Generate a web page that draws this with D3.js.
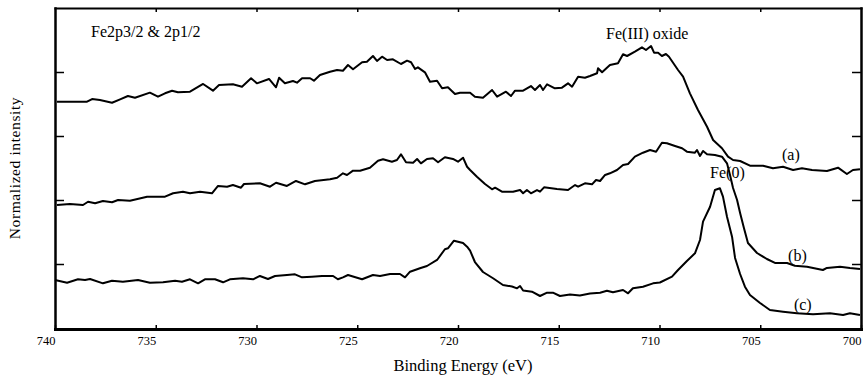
<!DOCTYPE html>
<html>
<head>
<meta charset="utf-8">
<script src="https://cdn.jsdelivr.net/npm/d3@7"></script>
<style>
    body { margin: 0; background: #fff; }
</style>
</head>
<body>
<div id="chart"></div>
<script>

// --- DONNEES ---

const xTickValues = [740, 735, 730, 725, 720, 715, 710, 705, 700];
const yTickValues = [1, 2, 3, 4];

// [binding energy (eV), normalized intensity]
const spectrumA = [
    [739.90, 3.536], [738.41, 3.536], [738.16, 3.578], [737.77, 3.563], [737.17, 3.520],
    [736.77, 3.573], [736.38, 3.625], [736.03, 3.598], [735.29, 3.677], [734.89, 3.614],
    [734.54, 3.667], [734.19, 3.708], [733.90, 3.683], [733.30, 3.692], [732.65, 3.813],
    [732.16, 3.708], [731.86, 3.797], [731.17, 3.808], [730.72, 3.770], [730.27, 3.902],
    [729.98, 3.823], [729.38, 3.891], [729.03, 3.761], [728.88, 3.911], [728.59, 3.823],
    [728.19, 3.859], [727.99, 3.833], [727.74, 3.902], [727.34, 3.902], [727.15, 3.864],
    [726.85, 3.953], [726.35, 4.005], [726.00, 4.031], [725.71, 4.020], [725.46, 4.109],
    [725.21, 4.042], [724.76, 4.152], [724.52, 4.161], [724.22, 4.250], [724.02, 4.172],
    [723.77, 4.239], [723.52, 4.188], [723.23, 4.198], [722.83, 4.125], [722.53, 4.177],
    [722.33, 4.152], [722.13, 4.047], [721.99, 4.073], [721.64, 3.995], [721.39, 3.848],
    [721.04, 3.864], [720.79, 3.745], [720.50, 3.761], [720.15, 3.656], [719.90, 3.677],
    [719.40, 3.677], [719.16, 3.614], [718.76, 3.598], [718.31, 3.719], [718.06, 3.614],
    [717.62, 3.692], [717.37, 3.625], [717.17, 3.708], [716.77, 3.708], [716.38, 3.781],
    [716.18, 3.719], [715.93, 3.797], [715.78, 3.719], [715.58, 3.808], [715.19, 3.745],
    [714.84, 3.755], [714.54, 3.823], [714.34, 3.770], [714.04, 3.927], [713.70, 3.911],
    [713.45, 3.938], [713.10, 3.980], [713.05, 4.058], [712.85, 3.995], [712.46, 4.109],
    [712.06, 4.136], [711.81, 4.277], [711.61, 4.250], [711.22, 4.317], [710.87, 4.386],
    [710.67, 4.344], [710.42, 4.406], [710.27, 4.302], [710.07, 4.302], [709.88, 4.250],
    [709.68, 4.281], [709.53, 4.239], [709.08, 4.031], [708.83, 3.927], [708.49, 3.667],
    [708.09, 3.406], [707.64, 3.145], [707.34, 2.938], [706.90, 2.808], [706.60, 2.677],
    [706.35, 2.625], [706.00, 2.609], [705.51, 2.536], [704.86, 2.536], [704.37, 2.495],
    [703.87, 2.520], [703.37, 2.469], [702.93, 2.495], [702.43, 2.469], [701.69, 2.453],
    [701.14, 2.505], [700.70, 2.406], [700.40, 2.469], [700.05, 2.480]
];

const spectrumB = [
    [739.90, 1.922], [739.26, 1.938], [738.61, 1.922], [738.36, 1.973], [738.01, 1.948],
    [737.62, 1.984], [737.17, 1.964], [736.87, 2.000], [736.28, 1.989], [735.43, 2.052],
    [734.54, 2.052], [734.14, 2.105], [733.65, 2.130], [733.30, 2.105], [732.80, 2.130],
    [732.21, 2.105], [731.91, 2.219], [731.46, 2.208], [731.17, 2.234], [730.77, 2.192],
    [730.62, 2.250], [729.83, 2.261], [729.33, 2.208], [729.03, 2.270], [728.49, 2.219],
    [728.04, 2.297], [727.59, 2.245], [727.10, 2.297], [726.35, 2.323], [726.00, 2.348],
    [725.71, 2.417], [725.51, 2.391], [725.21, 2.458], [724.86, 2.458], [724.37, 2.505],
    [723.97, 2.614], [723.72, 2.636], [723.28, 2.598], [723.03, 2.625], [722.83, 2.714],
    [722.58, 2.589], [722.23, 2.583], [722.03, 2.641], [721.84, 2.573], [721.54, 2.641],
    [721.24, 2.652], [720.99, 2.589], [720.65, 2.667], [720.25, 2.641], [720.00, 2.598],
    [719.75, 2.661], [719.55, 2.520], [719.40, 2.469], [719.06, 2.364], [718.66, 2.250],
    [718.31, 2.167], [718.16, 2.192], [717.82, 2.130], [717.27, 2.130], [716.92, 2.156],
    [716.77, 2.105], [716.58, 2.156], [716.38, 2.105], [716.08, 2.156], [715.93, 2.130],
    [715.73, 2.198], [715.09, 2.172], [714.54, 2.156], [714.19, 2.234], [714.04, 2.208],
    [713.70, 2.261], [713.35, 2.245], [713.15, 2.313], [712.95, 2.297], [712.70, 2.391],
    [712.46, 2.417], [712.11, 2.469], [711.81, 2.547], [711.56, 2.563], [711.22, 2.677],
    [710.82, 2.739], [710.47, 2.781], [710.17, 2.755], [709.88, 2.895], [709.63, 2.886],
    [709.23, 2.844], [708.88, 2.808], [708.64, 2.755], [708.24, 2.739], [708.14, 2.781],
    [707.99, 2.688], [707.84, 2.766], [707.64, 2.714], [707.25, 2.703], [706.90, 2.677],
    [706.65, 2.573], [706.50, 2.391], [706.35, 2.188], [706.15, 2.000], [706.00, 1.797],
    [705.81, 1.563], [705.61, 1.328], [705.16, 1.172], [704.67, 1.078], [704.27, 1.016],
    [703.67, 1.016], [703.28, 0.973], [702.68, 0.958], [701.89, 0.906], [701.69, 0.938],
    [701.04, 0.958], [700.55, 0.938], [700.05, 0.922]
];

const spectrumC = [
    [740.00, 0.750], [739.40, 0.708], [738.86, 0.761], [738.51, 0.750], [738.26, 0.766],
    [737.62, 0.698], [737.17, 0.739], [736.63, 0.723], [735.88, 0.750], [735.29, 0.708],
    [734.64, 0.714], [734.04, 0.739], [733.70, 0.723], [733.30, 0.761], [732.90, 0.698],
    [732.56, 0.761], [732.06, 0.761], [731.66, 0.714], [731.32, 0.761], [730.67, 0.777],
    [730.17, 0.761], [729.83, 0.813], [729.43, 0.766], [729.08, 0.813], [728.49, 0.828],
    [728.09, 0.839], [727.74, 0.792], [727.25, 0.802], [726.75, 0.813], [726.20, 0.813],
    [725.96, 0.761], [725.71, 0.792], [725.46, 0.828], [724.76, 0.761], [724.22, 0.828],
    [723.87, 0.813], [723.37, 0.844], [722.88, 0.844], [722.63, 0.792], [722.38, 0.880],
    [721.89, 0.933], [721.54, 0.969], [721.04, 1.063], [720.65, 1.230], [720.50, 1.245],
    [720.20, 1.364], [720.00, 1.348], [719.75, 1.328], [719.55, 1.270], [719.40, 1.208],
    [719.16, 1.031], [718.76, 0.875], [718.26, 0.777], [717.77, 0.672], [717.32, 0.648],
    [717.07, 0.620], [716.92, 0.656], [716.77, 0.586], [716.33, 0.567], [715.93, 0.500],
    [715.58, 0.552], [715.29, 0.552], [714.94, 0.500], [714.44, 0.523], [713.95, 0.508],
    [713.45, 0.539], [712.95, 0.552], [712.61, 0.583], [712.31, 0.558], [711.81, 0.594],
    [711.56, 0.542], [711.32, 0.620], [710.82, 0.645], [710.32, 0.698], [709.98, 0.711],
    [709.38, 0.802], [709.08, 0.906], [708.64, 1.047], [708.24, 1.167], [707.99, 1.375],
    [707.84, 1.661], [707.49, 1.895], [707.25, 2.156], [707.00, 2.183], [706.85, 2.052],
    [706.65, 1.739], [706.40, 1.427], [706.25, 1.094], [706.00, 0.844], [705.76, 0.645],
    [705.51, 0.516], [705.01, 0.391], [704.52, 0.281], [703.87, 0.255], [703.18, 0.230],
    [702.38, 0.214], [701.54, 0.230], [700.89, 0.203], [700.55, 0.230], [700.05, 0.203]
];

// Annotations: texte, energie de depart, intensite de la ligne de base
const annotations = [
    {text: "Fe2p3/2 & 2p1/2", e: 738.21, v: 4.547},
    {text: "Fe(III) oxide", e: 712.65, v: 4.516},
    {text: "Fe(0)", e: 707.49, v: 2.344},
    {text: "(a)", e: 703.92, v: 2.625},
    {text: "(b)", e: 703.62, v: 1.047},
    {text: "(c)", e: 703.33, v: 0.281}
];


// --- GRAPHE ---

const size = {width: 868, height: 384};
const fontFamily = "'Liberation Serif', 'Times New Roman', serif";

const svg = d3.select("#chart").append("svg")
    .attr("width", size.width)
    .attr("height", size.height)
    .attr("font-family", fontFamily);

const xScale = d3.scaleLinear().domain([740, 700]).range([55, 861]);
const yScale = d3.scaleLinear().domain([0, 5]).range([328, 8]);

// Axes (ticks vers l'interieur, comme un cadre)
const bottomAxis = svg.append("g")
    .attr("transform", "translate(0,329)")
    .call(d3.axisBottom(xScale).tickValues(xTickValues).tickSizeInner(-4).tickSizeOuter(0));
bottomAxis.select(".domain").attr("stroke-width", 3);
bottomAxis.selectAll(".tick text")
    .attr("y", 16)
    .attr("dy", 0)
    .attr("x", 0)
    .attr("text-anchor", "end")
    .attr("font-size", 12.5)
    .attr("font-family", fontFamily);

const topAxis = svg.append("g")
    .attr("transform", "translate(0,8)")
    .call(d3.axisTop(xScale).tickValues(xTickValues.slice(1, -1)).tickSizeInner(-4).tickSizeOuter(0).tickFormat(""));
topAxis.select(".domain").attr("stroke-width", 2);

const leftAxis = svg.append("g")
    .attr("transform", "translate(55,0)")
    .call(d3.axisLeft(yScale).tickValues(yTickValues).tickSizeInner(-9).tickSizeOuter(0).tickFormat(""));
leftAxis.select(".domain").attr("stroke-width", 2.5);

const rightAxis = svg.append("g")
    .attr("transform", "translate(861,0)")
    .call(d3.axisRight(yScale).tickValues(yTickValues).tickSizeInner(-9).tickSizeOuter(0).tickFormat(""));
rightAxis.select(".domain").attr("stroke-width", 2.5);

svg.selectAll(".domain").attr("stroke-linecap", "square");
svg.selectAll(".tick line").attr("stroke-width", 1.5);

// Spectres
const line = d3.line()
    .x(d => xScale(d[0]))
    .y(d => yScale(d[1]));

svg.append("g")
    .selectAll("path")
    .data([spectrumA, spectrumB, spectrumC])
    .join("path")
    .attr("fill", "none")
    .attr("stroke", "#000")
    .attr("stroke-width", 2)
    .attr("stroke-linejoin", "round")
    .attr("d", line);

// Textes
svg.append("g")
    .selectAll("text")
    .data(annotations)
    .join("text")
    .attr("x", d => xScale(d.e))
    .attr("y", d => yScale(d.v))
    .attr("font-size", 16)
    .attr("fill", "#000")
    .text(d => d.text);

svg.append("text")
    .attr("x", 463)
    .attr("y", 371)
    .attr("text-anchor", "middle")
    .attr("font-size", 16.5)
    .text("Binding Energy (eV)");

svg.append("text")
    .attr("transform", "translate(20,168) rotate(-90)")
    .attr("text-anchor", "middle")
    .attr("font-size", 15.5)
    .attr("letter-spacing", 0.6)
    .text("Normalized intensity");

</script>
</body>
</html>
